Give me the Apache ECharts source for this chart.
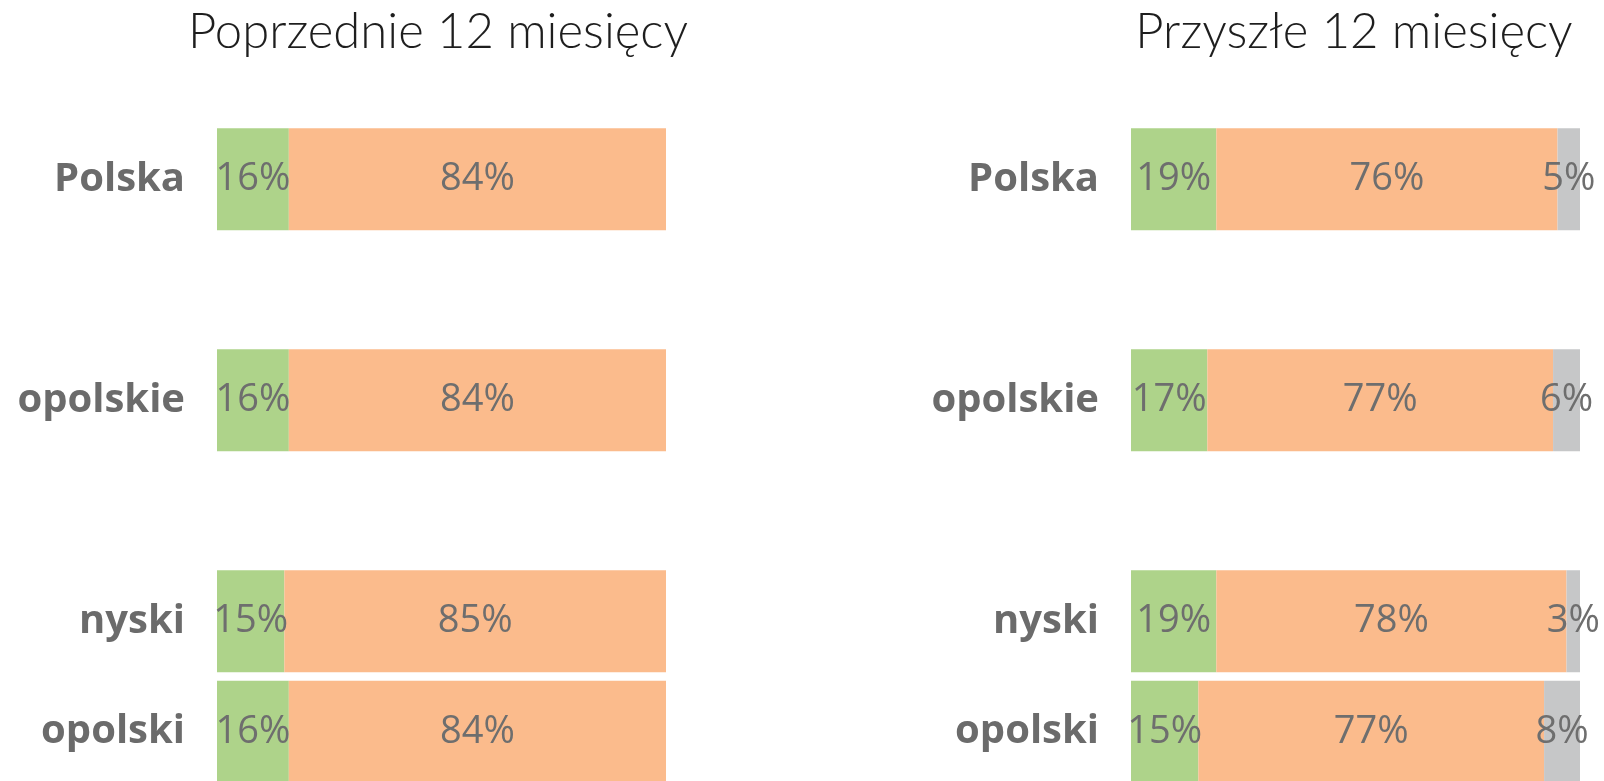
<!DOCTYPE html>
<html>
<head>
<meta charset="utf-8">
<title>Poprzednie / Przyszłe 12 miesięcy</title>
<script src="https://cdn.jsdelivr.net/npm/echarts@6/dist/echarts.min.js"></script>
<style>
  html, body { margin: 0; padding: 0; background: #fff; }
  #chart { width: 1604px; height: 781px; }
</style>
</head>
<body>
<div id="chart"></div>
<script>
// dane (w %)
const regions = ['Polska', 'opolskie', 'nyski', 'opolski'];
const prevGreen = [16, 16, 15, 16];
const prevOrange = [84, 84, 85, 84];
const nextGreen = [19, 17, 19, 15];
const nextOrange = [76, 77, 78, 77];
const nextGrey = [5, 6, 3, 8];

// wiersze na osi - puste wiersze rozdzielają grupy
const rowSlots = [0, 2, 4, 5];
const rowCount = 6;
function spread(values, empty) {
  const out = new Array(rowCount).fill(empty);
  values.forEach((v, i) => { out[rowSlots[i]] = v; });
  return out;
}

const GREEN = '#aed38a';
const ORANGE = '#fbbb8c';
const GREY = '#c6c7c8';

const labelStyle = {
  show: true,
  position: 'inside',
  formatter: '{c}%',
  color: '#6e6e6e',
  fontSize: 38,
  fontFamily: 'Open Sans'
};

function bar(name, values, color, idx, stack) {
  return {
    name: name,
    type: 'bar',
    stack: stack,
    xAxisIndex: idx,
    yAxisIndex: idx,
    barWidth: 102,
    itemStyle: { color: color },
    label: labelStyle,
    data: spread(values, '-')
  };
}

function catAxis(idx) {
  return {
    type: 'category',
    gridIndex: idx,
    inverse: true,
    data: spread(regions, ''),
    axisLine: { show: false },
    axisTick: { show: false },
    axisLabel: {
      color: '#6b6b6b',
      fontSize: 40,
      fontWeight: 'bold',
      fontFamily: 'Open Sans',
      margin: 32
    }
  };
}

function valAxis(idx) {
  return { type: 'value', gridIndex: idx, min: 0, max: 100, show: false };
}

const titleFont = '300 49px Lato';

let myChart = echarts.init(document.getElementById('chart'));
myChart.setOption({
  animation: false,
  backgroundColor: '#fff',
  graphic: [
    { type: 'text', x: 438, y: 32, style: { text: 'Poprzednie 12 miesięcy', font: titleFont, fill: '#1e1e1e', textAlign: 'center', textVerticalAlign: 'middle' } },
    { type: 'text', x: 1354, y: 32, style: { text: 'Przyszłe 12 miesięcy', font: titleFont, fill: '#1e1e1e', textAlign: 'center', textVerticalAlign: 'middle' } }
  ],
  // ostatni wiersz wychodzi poza dół obrazka jak w oryginale
  grid: [
    { left: 217, width: 449, top: 124, height: 663, outerBoundsMode: 'none' },
    { left: 1131, width: 449, top: 124, height: 663, outerBoundsMode: 'none' }
  ],
  xAxis: [valAxis(0), valAxis(1)],
  yAxis: [catAxis(0), catAxis(1)],
  series: [
    bar('tak', prevGreen, GREEN, 0, 'prev'),
    bar('nie', prevOrange, ORANGE, 0, 'prev'),
    bar('tak', nextGreen, GREEN, 1, 'next'),
    bar('nie', nextOrange, ORANGE, 1, 'next'),
    bar('trudno powiedzieć', nextGrey, GREY, 1, 'next')
  ]
});
</script>
</body>
</html>
